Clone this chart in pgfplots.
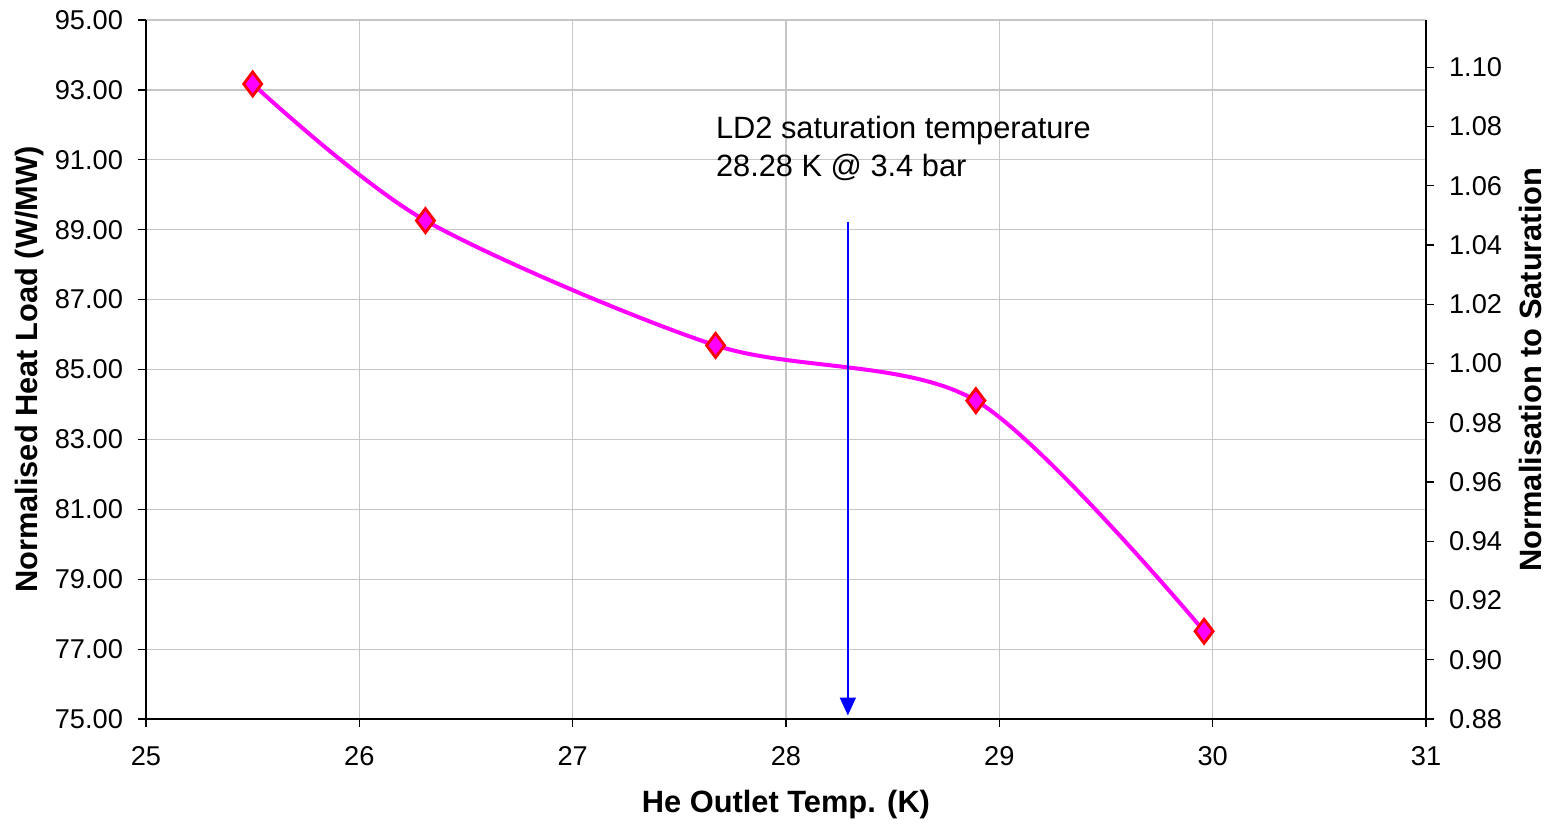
\documentclass[border=0pt]{standalone}
\usepackage{fontspec}
\setmainfont{Liberation Sans}
\usepackage{pgfplots}
\pgfplotsset{compat=1.18}
\usetikzlibrary{arrows.meta}

\definecolor{excelmag}{RGB}{255,0,255}
\definecolor{excelred}{RGB}{255,0,0}
\definecolor{excelblue}{RGB}{0,0,255}
\newcommand{\tickfont}{\fontsize{13.6}{16}\selectfont}
\newcommand{\labfont}{\fontsize{15.4}{18}\selectfont\bfseries}

\begin{document}
\begin{tikzpicture}
\begin{axis}[
    name=main,
    scale only axis,
    width=640pt, height=349.5pt,
    xmin=25, xmax=31,
    ymin=75, ymax=95,
    xtick={25,26,...,31},
    ytick={75,77,...,95},
    axis x line*=bottom,
    axis y line*=left,
    axis line style={black, line width=0.8pt, -},
    tick align=outside,
    major tick length=4pt,
    tick style={black, line width=0.6pt},
    grid=major,
    grid style={gray!45, line width=0.6pt},
    /pgf/number format/assume math mode=true,
    ticklabel style={font=\tickfont},
    yticklabel={\pgfmathprintnumber[fixed,fixed zerofill,precision=2]{\tick}},
    xticklabel style={yshift=-6pt},
    yticklabel style={xshift=-4pt},
    xlabel={He Outlet Temp. (K)},
    ylabel={Normalised Heat Load (W/MW)},
    label style={font=\labfont},
    xlabel style={at={(axis description cs:0.5,-0.123)}, anchor=center},
    ylabel style={at={(axis description cs:-0.0906,0.5)}, anchor=center},
    clip=false,
]
\addplot[
    excelmag, line width=2pt, smooth,
    mark=diamond*, mark size=6pt,
    mark options={draw=excelred, fill=excelmag, line width=1.4pt},
    ]
    coordinates {
    (25.50,93.17)(26.31,89.26)(27.67,85.69)(28.89,84.11)(29.96,77.51)
    };

\draw[excelblue, line width=0.9pt, -{Triangle[length=9pt,width=8pt]}]
    (axis cs:28.29,89.23) -- (axis cs:28.29,75.1);
\node[anchor=base west, inner sep=0, font=\fontsize{15.4}{18}\selectfont]
    at (axis cs:27.67,91.6) {LD2 saturation temperature};
\node[anchor=base west, inner sep=0, font=\fontsize{15.4}{18}\selectfont]
    at (axis cs:27.67,90.51) {28.28 K @ 3.4 bar};
\end{axis}

\begin{axis}[
    scale only axis,
    width=640pt, height=349.5pt,
    xmin=25, xmax=31,
    ymin=0.88, ymax=1.1159,
    ytick={0.88,0.90,...,1.10},
    axis x line=none,
    axis y line*=right,
    axis line style={black, line width=0.8pt, -},
    tick align=outside,
    major tick length=4pt,
    tick style={black, line width=0.6pt},
    /pgf/number format/assume math mode=true,
    ticklabel style={font=\tickfont},
    yticklabel={\pgfmathprintnumber[fixed,fixed zerofill,precision=2]{\tick}},
    yticklabel style={xshift=4pt},
    ylabel={Normalisation to Saturation},
    label style={font=\labfont},
    ylabel style={at={(axis description cs:1.08125,0.5)}, anchor=center, rotate=0},
]
\end{axis}

\pgfresetboundingbox
\path ([shift={(-73pt,-53.5pt)}]main.south west) rectangle ([shift={(709pt,359.5pt)}]main.south west);
\end{tikzpicture}
\end{document}
